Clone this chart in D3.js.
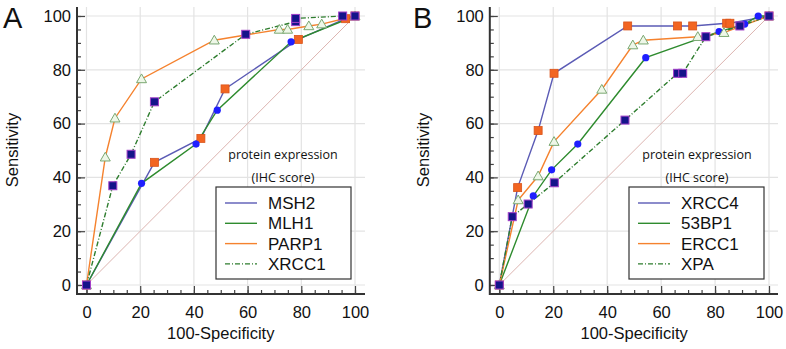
<!DOCTYPE html>
<html>
<head>
<meta charset="utf-8">
<script src="https://cdn.jsdelivr.net/npm/d3@7"></script>
<style>
  body { margin: 0; background: #fff; }
  svg text { font-family: "Liberation Sans", Arial, sans-serif; fill: #111; }
</style>
</head>
<body>
<div id="chart"></div>
<script>
// ROC curves, two panels

const majorTicks = [0, 20, 40, 60, 80, 100];
const minorTicks = d3.range(0, 101, 5);

// panel A
const msh2  = [[0,0],[25.3,45.6],[42.6,54.5],[51.6,72.9],[78.9,91.3],[96.5,99],[100,100]];
const mlh1  = [[0,0],[20.5,37.8],[40.8,52.4],[48.7,65],[76.2,90.4],[100,100]];
const parp1 = [[0,0],[7,47.5],[10.6,62],[20.5,76.6],[47.6,91],[71.8,95],[74.9,95],[82.8,96.3],[87.6,97],[100,100]];
const xrcc1 = [[0,0],[9.8,36.9],[16.6,48.6],[25.3,68.1],[59.3,93.2],[77.9,97.9],[77.9,99.1],[95.4,100],[100,100]];

// panel B
const xrcc4 = [[0,0],[6.8,36.2],[14.4,57.4],[20.3,78.7],[47.6,96.3],[66.1,96.3],[71.7,96.3],[84.3,97.3],[85.5,97.3],[100,100]];
const bp53  = [[0,0],[12.6,33.1],[19.4,42.8],[29.1,52.4],[54.3,84.5],[81.5,94.2],[91,97],[96,100],[100,100]];
const ercc1 = [[0,0],[7,31.6],[14.4,40.5],[20.3,53.3],[38,72.7],[49.5,89.2],[53.4,91],[73.6,92.3],[83.3,93.8],[100,100]];
const xpa   = [[0,0],[4.8,25.4],[10.7,30.1],[20.4,38],[46.6,61.3],[66.1,78.7],[68,78.7],[76.6,92.3],[89.2,96.3],[100,100]];

const namesA = ["MSH2", "MLH1", "PARP1", "XRCC1"];
const namesB = ["XRCC4", "53BP1", "ERCC1", "XPA"];

const width = 786, height = 349;

const lineStyles = [
  { color: "#5b5bb5", dash: null, marker: "orangeSquare" },
  { color: "#2e8b2e", dash: null, marker: "blueCircle" },
  { color: "#f5822e", dash: null, marker: "triangle" },
  { color: "#2e7d2e", dash: "5,2,1,2", marker: "navySquare" }
];

let svg = d3.select("#chart")
  .append("svg")
  .attr("width", width)
  .attr("height", height);

function drawMarker(g, type, px, py) {
  if (type === "orangeSquare") {
    g.append("rect").attr("x", px - 4).attr("y", py - 4).attr("width", 8).attr("height", 8)
      .attr("fill", "#f26522").attr("stroke", "#d9541a").attr("stroke-width", 0.8);
  } else if (type === "navySquare") {
    g.append("rect").attr("x", px - 4).attr("y", py - 4).attr("width", 8).attr("height", 8)
      .attr("fill", "#14148a").attr("stroke", "#a23fc8").attr("stroke-width", 1);
  } else if (type === "blueCircle") {
    g.append("circle").attr("cx", px).attr("cy", py).attr("r", 3.6)
      .attr("fill", "#1f1fff");
  } else {
    let s = 5;
    g.append("path")
      .attr("d", `M${px},${py - s}L${px + s},${py + s * 0.75}L${px - s},${py + s * 0.75}Z`)
      .attr("fill", "#eef7e8").attr("stroke", "#7aa872").attr("stroke-width", 1);
  }
}

function drawPanel(p) {
  let g = svg.append("g");

  let x = d3.scaleLinear().domain([0, 100]).range(p.xRange);
  let y = d3.scaleLinear().domain([0, 100]).range([285, 16]);

  const axisX = p.xRange[0] - 9.5, axisY = 294, top = 7, right = p.right;

  // grid
  g.append("g").selectAll("line.v").data(majorTicks).join("line")
    .attr("x1", d => x(d)).attr("x2", d => x(d))
    .attr("y1", top).attr("y2", axisY)
    .attr("stroke", "#e3e3e3").attr("stroke-width", 1.2);
  g.append("g").selectAll("line.h").data(majorTicks).join("line")
    .attr("x1", axisX).attr("x2", right)
    .attr("y1", d => y(d)).attr("y2", d => y(d))
    .attr("stroke", "#e3e3e3").attr("stroke-width", 1.2);

  // diagonal reference
  g.append("line")
    .attr("x1", x(0)).attr("y1", y(0)).attr("x2", x(100)).attr("y2", y(100))
    .attr("stroke", "#dcb4b0").attr("stroke-width", 1);

  // axes: ticks point inward
  let yMinor = g.append("g").attr("transform", `translate(${axisX},0)`)
    .call(d3.axisLeft(y).tickValues(minorTicks).tickSize(-4).tickFormat(""));
  let yMajor = g.append("g").attr("transform", `translate(${axisX},0)`)
    .call(d3.axisLeft(y).tickValues(majorTicks).tickSize(-8).tickPadding(16));
  let xMinor = g.append("g").attr("transform", `translate(0,${axisY})`)
    .call(d3.axisBottom(x).tickValues(minorTicks).tickSize(-4).tickFormat(""));
  let xMajor = g.append("g").attr("transform", `translate(0,${axisY})`)
    .call(d3.axisBottom(x).tickValues(majorTicks).tickSize(-8).tickPadding(16));

  for (let a of [yMinor, yMajor, xMinor, xMajor]) {
    a.select(".domain").remove();
    a.selectAll(".tick line").attr("stroke", "#444").attr("stroke-width", 1.2);
    a.selectAll("text").style("font-size", "16.5px").attr("fill", "#111");
  }
  yMajor.selectAll("text").attr("x", -6);
  xMajor.selectAll("text").attr("y", 12).attr("dy", "0.71em");

  g.append("path")
    .attr("d", `M${axisX},${top}V${axisY}H${right}`)
    .attr("fill", "none").attr("stroke", "#333").attr("stroke-width", 2);

  // curves
  let line = d3.line().x(d => x(d[0])).y(d => y(d[1]));
  p.series.forEach((s, i) => {
    g.append("path").datum(s)
      .attr("d", line)
      .attr("fill", "none")
      .attr("stroke", lineStyles[i].color)
      .attr("stroke-width", 1.4)
      .attr("stroke-dasharray", lineStyles[i].dash);
  });
  p.series.forEach((s, i) => {
    let mg = g.append("g");
    for (let d of s) drawMarker(mg, lineStyles[i].marker, x(d[0]), y(d[1]));
  });

  // labels
  g.append("text").attr("x", p.letterX).attr("y", 28)
    .style("font-size", "29px")
    .text(p.letter);
  g.append("text")
    .attr("transform", `translate(${p.yLabelX},150) rotate(-90)`)
    .attr("text-anchor", "middle").attr("dominant-baseline", "middle")
    .style("font-size", "16.5px")
    .text("Sensitivity");
  g.append("text")
    .attr("x", (p.xRange[0] + p.xRange[1]) / 2).attr("y", 339)
    .attr("text-anchor", "middle")
    .style("font-size", "16.5px")
    .text("100-Specificity");

  // note
  g.append("text").attr("x", p.noteX).attr("y", 159).attr("text-anchor", "middle")
    .style("font-family", "'Open Sans', sans-serif").style("font-size", "12.5px")
    .text("protein expression");
  g.append("text").attr("x", p.noteX).attr("y", 182).attr("text-anchor", "middle")
    .style("font-family", "'Open Sans', sans-serif").style("font-size", "12.5px")
    .text("(IHC score)");

  // legend
  let lg = g.append("g").attr("transform", `translate(${p.legendX},187)`);
  lg.append("rect").attr("width", 135).attr("height", 92)
    .attr("fill", "#fff").attr("stroke", "#333").attr("stroke-width", 1.2);
  p.names.forEach((n, i) => {
    let yy = 16 + i * 20.3;
    lg.append("line").attr("x1", 9).attr("x2", 41).attr("y1", yy).attr("y2", yy)
      .attr("stroke", lineStyles[i].color).attr("stroke-width", 1.4)
      .attr("stroke-dasharray", lineStyles[i].dash);
    lg.append("text").attr("x", 52).attr("y", yy).attr("dy", "0.36em")
      .style("font-size", "17px").text(n);
  });
}

drawPanel({
  series: [msh2, mlh1, parp1, xrcc1], names: namesA,
  xRange: [86.5, 355], right: 365, letter: "A", letterX: 3, yLabelX: 14,
  noteX: 283, legendX: 216
});
drawPanel({
  series: [xrcc4, bp53, ercc1, xpa], names: namesB,
  xRange: [499.3, 769], right: 778, letter: "B", letterX: 413, yLabelX: 425,
  noteX: 697, legendX: 629
});
</script>
</body>
</html>
